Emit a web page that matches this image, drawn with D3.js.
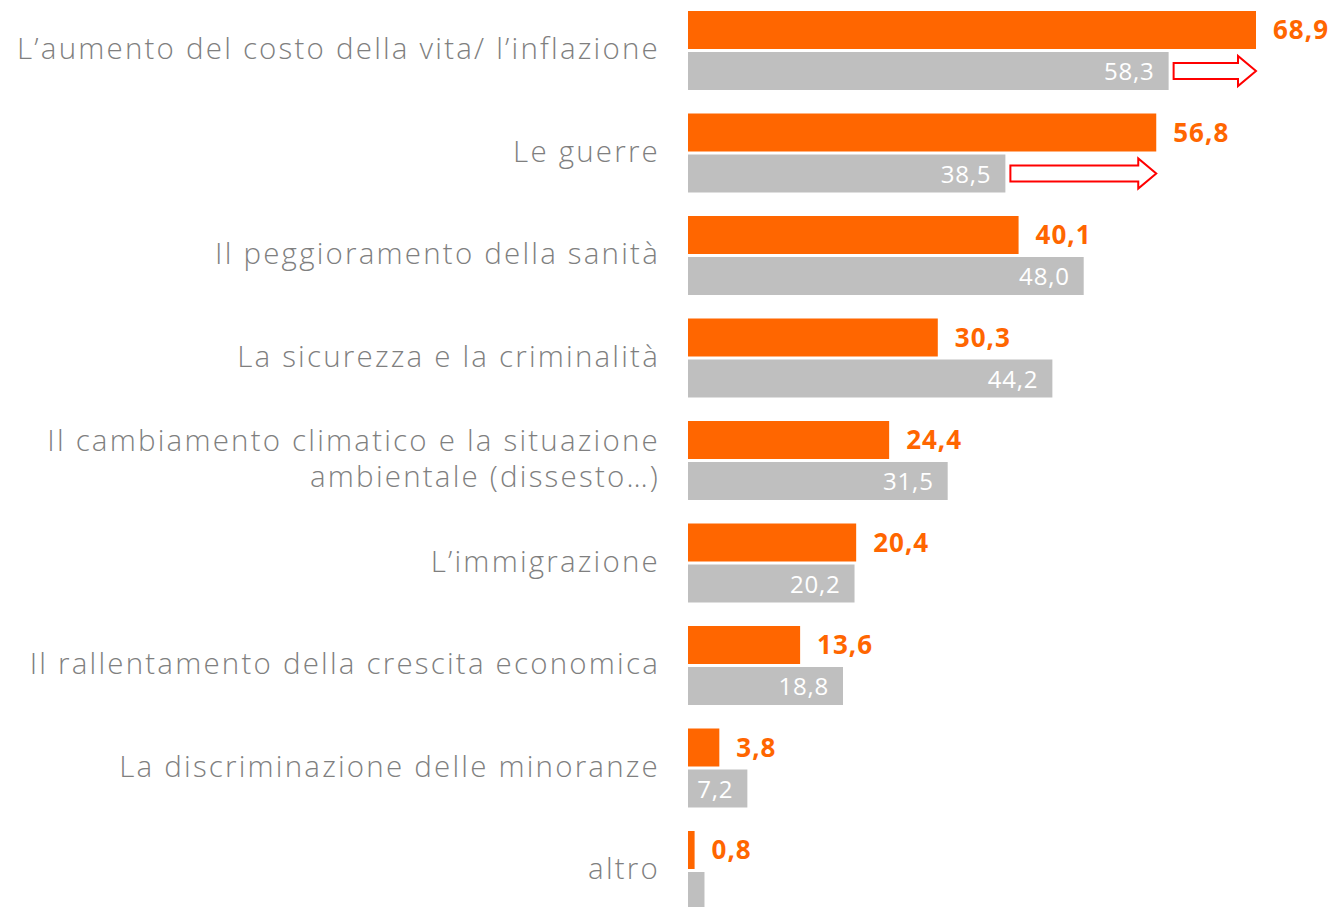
<!DOCTYPE html>
<html>
<head>
<meta charset="utf-8">
<script src="https://cdn.jsdelivr.net/npm/d3@7"></script>
<style>
  body { margin: 0; background: #fff; }
  svg { display: block; }
</style>
</head>
<body>
<div id="chart"></div>
<script>
// categories (a line break where the label wraps)
const categories = [
  ["L’aumento del costo della vita/ l’inflazione"],
  ["Le guerre"],
  ["Il peggioramento della sanità"],
  ["La sicurezza e la criminalità"],
  ["Il cambiamento climatico e la situazione", "ambientale (dissesto…)"],
  ["L’immigrazione"],
  ["Il rallentamento della crescita economica"],
  ["La discriminazione delle minoranze"],
  ["altro"]
];
// current survey (orange) and previous survey (grey)
const current = [68.9, 56.8, 40.1, 30.3, 24.4, 20.4, 13.6, 3.8, 0.8];
const previous = [58.3, 38.5, 48.0, 44.2, 31.5, 20.2, 18.8, 7.2, 2.0];
const previousLabels = ["58,3", "38,5", "48,0", "44,2", "31,5", "20,2", "18,8", "7,2", ""];
// rows that get the "growth" arrow
const arrowRows = [0, 1];

const width = 1332, height = 907;
const x0 = 688;

const svg = d3.select("#chart").append("svg")
  .attr("width", width)
  .attr("height", height);

let x = d3.scaleLinear()
  .domain([0, 68.9])
  .range([x0, 1256]);

// one band per category, bars sit at the top of each band
let y = d3.scaleBand()
  .domain(d3.range(categories.length))
  .range([11, 11 + 102.5 * categories.length])
  .padding(0);

let barH = 38;
let gap = 3;

let fmt = v => d3.format(".1f")(v).replace(".", ",");

let rows = svg.selectAll("g.row")
  .data(categories)
  .enter()
    .append("g")
    .attr("class", "row");

// orange bars
rows.append("rect")
  .attr("x", x0)
  .attr("y", (d, i) => y(i))
  .attr("width", (d, i) => x(current[i]) - x0)
  .attr("height", barH)
  .attr("fill", "#FF6600");

// grey bars
rows.append("rect")
  .attr("x", x0)
  .attr("y", (d, i) => y(i) + barH + gap)
  .attr("width", (d, i) => x(previous[i]) - x0)
  .attr("height", barH)
  .attr("fill", "#BFBFBF");

// orange labels
rows.append("text")
  .attr("x", (d, i) => x(current[i]) + 17)
  .attr("y", (d, i) => y(i) + 19)
  .attr("dy", "0.35em")
  .attr("fill", "#FF6600")
  .attr("font-family", "'Open Sans', sans-serif")
  .attr("font-weight", "bold")
  .attr("font-size", "26px")
  .attr("letter-spacing", "1px")
  .text((d, i) => fmt(current[i]));

// grey labels (inside bar end)
rows.append("text")
  .attr("x", (d, i) => x(previous[i]) - 14)
  .attr("y", (d, i) => y(i) + barH + gap + 20)
  .attr("dy", "0.35em")
  .attr("text-anchor", "end")
  .attr("fill", "#FFFFFF")
  .attr("font-family", "'Open Sans', sans-serif")
  .attr("font-size", "24px")
  .attr("letter-spacing", "0.8px")
  .text((d, i) => previousLabels[i]);

// category labels
rows.append("text")
  .attr("text-anchor", "end")
  .attr("fill", "#7F7F7F")
  .attr("font-family", "'Open Sans', sans-serif")
  .attr("font-weight", 300)
  .attr("font-size", "29.5px")
  .attr("letter-spacing", "2.2px")
  .each(function(d, i) {
    let mid = y(i) + barH + gap / 2 - 1.5;
    let lineH = 36;
    let top = mid - (d.length - 1) * lineH / 2;
    d3.select(this).selectAll("tspan")
      .data(d)
      .enter()
        .append("tspan")
        .attr("x", 660)
        .attr("y", (l, j) => top + j * lineH)
        .attr("dy", "0.35em")
        .text(l => l);
  });

// red outline arrows from grey end to orange end
let arrowPath = (xa, xb, yc) => {
  let shaft = 8, head = 15, headLen = 18;
  return d3.line()([
    [xa, yc - shaft],
    [xb - headLen, yc - shaft],
    [xb - headLen, yc - head],
    [xb, yc],
    [xb - headLen, yc + head],
    [xb - headLen, yc + shaft],
    [xa, yc + shaft]
  ]) + "Z";
};

svg.selectAll("path.arrow")
  .data(arrowRows)
  .enter()
    .append("path")
    .attr("class", "arrow")
    .attr("d", i => arrowPath(x(previous[i]) + 5, x(current[i]), y(i) + barH + gap + barH / 2))
    .attr("fill", "#fff")
    .attr("stroke", "#FF0000")
    .attr("stroke-width", 2);
</script>
</body>
</html>
